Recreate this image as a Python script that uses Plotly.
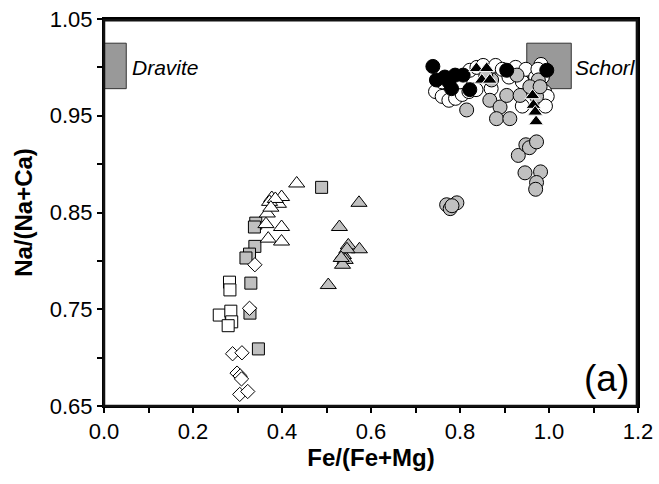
import plotly.graph_objects as go

# ---- data ----
white_circle_x = [0.745, 0.760, 0.775, 0.790, 0.805, 0.820, 0.836, 0.822, 0.838, 0.852, 0.867, 0.880,
                  0.895, 0.910, 0.925, 0.940, 0.948, 0.955, 0.962, 0.970, 0.982, 0.985, 0.990, 0.996,
                  0.992, 0.940, 0.760, 0.800, 0.870, 0.975]
white_circle_y = [0.975, 0.970, 0.966, 0.968, 0.972, 0.975, 0.977, 0.997, 1.000, 1.002, 0.997, 1.002,
                  0.998, 0.990, 1.000, 0.985, 0.998, 0.965, 0.975, 0.990, 1.003, 0.990, 0.975, 0.970,
                  0.960, 0.960, 0.985, 0.985, 0.978, 0.998]

grey_circle_x = [0.815, 0.867, 0.890, 0.882, 0.912, 0.905, 0.935, 0.972, 0.976, 0.871, 0.858, 0.957,
                 0.972, 0.928, 0.980,
                 0.931, 0.948, 0.956, 0.972, 0.946, 0.981, 0.972, 0.970,
                 0.770, 0.793, 0.778, 0.782]
grey_circle_y = [0.956, 0.966, 0.959, 0.947, 0.947, 0.971, 0.971, 0.978, 0.987, 0.987, 0.991, 0.980,
                 0.970, 0.992, 0.980,
                 0.909, 0.920, 0.917, 0.923, 0.891, 0.892, 0.881, 0.874,
                 0.858, 0.860, 0.854, 0.857]

black_circle_x = [0.739, 0.747, 0.766, 0.781, 0.789, 0.807, 0.822, 0.905, 0.995, 0.775]
black_circle_y = [1.001, 0.987, 0.990, 0.978, 0.992, 0.992, 0.977, 0.997, 0.997, 0.985]

black_tri_x = [0.837, 0.860, 0.849, 0.867, 0.963, 0.965, 0.969, 0.971]
black_tri_y = [0.999, 0.999, 0.987, 0.987, 0.971, 0.961, 0.954, 0.944]

white_tri_x = [0.433, 0.377, 0.399, 0.392, 0.372, 0.385, 0.367, 0.364, 0.399, 0.369, 0.399, 0.375]
white_tri_y = [0.880, 0.865, 0.866, 0.859, 0.861, 0.864, 0.849, 0.838, 0.835, 0.823, 0.820, 0.855]

grey_tri_x = [0.573, 0.529, 0.549, 0.574, 0.538, 0.542, 0.536, 0.504, 0.546, 0.533]
grey_tri_y = [0.860, 0.835, 0.816, 0.812, 0.806, 0.801, 0.796, 0.775, 0.812, 0.803]

grey_sq_x = [0.489, 0.341, 0.338, 0.339, 0.327, 0.319, 0.330, 0.328, 0.347]
grey_sq_y = [0.876, 0.839, 0.835, 0.815, 0.807, 0.803, 0.777, 0.746, 0.709]

white_sq_x = [0.259, 0.285, 0.287, 0.279, 0.282, 0.283]
white_sq_y = [0.744, 0.748, 0.737, 0.733, 0.778, 0.770]

white_dia_x = [0.339, 0.327, 0.289, 0.310, 0.299, 0.306, 0.309, 0.305, 0.323]
white_dia_y = [0.796, 0.751, 0.704, 0.705, 0.684, 0.681, 0.678, 0.662, 0.665]

end_members = ["Dravite", "Schorl"]
em_x0 = [0.0, 0.95]
em_x1 = [0.05, 1.05]
em_y0 = [0.978, 0.978]
em_y1 = [1.025, 1.025]
em_label_x = [0.058, 1.053]
em_label_y = [1.0, 1.0]

x_range = [0.0, 1.2]
y_range = [0.65, 1.05]
panel_label = "(a)"

# ---- figure ----
GREY = "#c0c0c0"
FONT = "Liberation Sans, Arial"
fig = go.Figure()

def add(xs, ys, symbol, fill, size, line_color="black"):
    fig.add_trace(go.Scatter(
        x=xs, y=ys, mode="markers", showlegend=False, hoverinfo="skip",
        marker=dict(symbol=symbol, color=fill, size=size,
                    line=dict(color=line_color, width=1))))

add(grey_sq_x, grey_sq_y, "square", GREY, 12)
add(white_sq_x, white_sq_y, "square", "white", 12)
add(white_dia_x, white_dia_y, "diamond", "white", 11)
add(white_tri_x, white_tri_y, "triangle-up", "white", 14)
add(grey_tri_x, grey_tri_y, "triangle-up", GREY, 14)
add(white_circle_x, white_circle_y, "circle", "white", 14)
add(grey_circle_x, grey_circle_y, "circle", GREY, 14)
add(black_circle_x, black_circle_y, "circle", "black", 14)
add(black_tri_x, black_tri_y, "triangle-up", "black", 13, line_color="white")

for name, x0, x1, y0, y1, lx, ly in zip(end_members, em_x0, em_x1, em_y0, em_y1, em_label_x, em_label_y):
    fig.add_shape(type="rect", xref="x", yref="y", x0=x0, x1=x1, y0=y0, y1=y1,
                  fillcolor="#999999", line=dict(color="#333333", width=1), layer="below")
    fig.add_annotation(x=lx, y=ly, xref="x", yref="y", text="<i>%s</i>" % name,
                       showarrow=False, xanchor="left", yanchor="middle",
                       font=dict(family=FONT, size=21, color="black"))

# frame around the plotting area, drawn just inside the domain edges
fig.add_shape(type="rect", xref="paper", yref="paper", x0=0.0, x1=0.998, y0=0.0, y1=0.997,
              line=dict(color="#111111", width=2.5), fillcolor="rgba(0,0,0,0)", layer="above")

fig.add_annotation(x=1.185, y=0.678, xref="x", yref="y", text=panel_label, showarrow=False,
                   xanchor="right", yanchor="middle",
                   font=dict(family=FONT, size=37, color="black"))

axis_common = dict(showline=True, linecolor="black", linewidth=2, mirror=True,
                   ticks="outside", ticklen=5, tickwidth=2, tickcolor="black",
                   showgrid=False, zeroline=False, automargin=False,
                   tickfont=dict(family=FONT, size=22, color="black"))

fig.update_xaxes(range=x_range, tick0=0, dtick=0.2, tickformat=".1f",
                 minor=dict(ticks="outside", ticklen=5, tickwidth=2, tickcolor="black", dtick=0.1, showgrid=False),
                 title=dict(text="<b>Fe/(Fe+Mg)</b>", standoff=4,
                            font=dict(family=FONT, size=24, color="black")),
                 **axis_common)
fig.update_yaxes(range=y_range, tick0=0.65, dtick=0.1, tickformat=".2f",
                 minor=dict(ticks="outside", ticklen=5, tickwidth=2, tickcolor="black", dtick=0.05, showgrid=False),
                 title=dict(text="<b>Na/(Na+Ca)</b>", standoff=10,
                            font=dict(family=FONT, size=24, color="black")),
                 **axis_common)

fig.update_layout(width=659, height=484, plot_bgcolor="white", paper_bgcolor="white",
                  margin=dict(l=104, r=21, t=19, b=78),
                  font=dict(family=FONT, color="black"))

fig.write_html("out.html", config={"displayModeBar": False},
               post_script="document.body.style.margin='0';document.body.style.overflow='hidden';")
